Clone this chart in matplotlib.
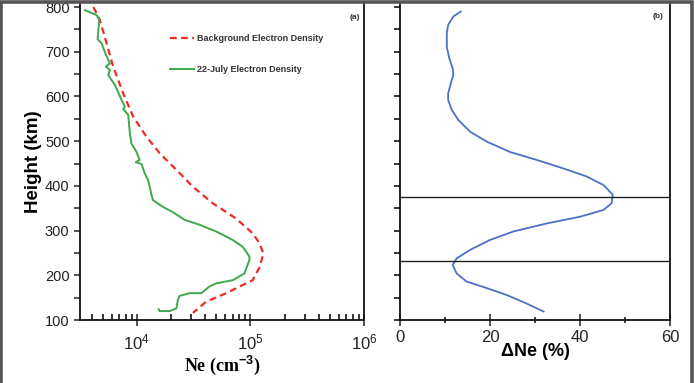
import numpy as np
import matplotlib
matplotlib.use("Agg")
import matplotlib.pyplot as plt
from matplotlib.ticker import LogLocator, MultipleLocator, NullFormatter
from matplotlib.patches import Rectangle

plt.rcParams['font.family'] = ['Liberation Sans', 'DejaVu Sans']
plt.rcParams['mathtext.fontset'] = 'custom'
plt.rcParams['mathtext.rm'] = 'Liberation Sans'
plt.rcParams['mathtext.it'] = 'Liberation Sans:italic'
plt.rcParams['mathtext.bf'] = 'Liberation Sans:bold'

# Panel (a): electron density profiles
july_height = [793, 782, 771, 728, 719, 693, 674, 667, 659, 648, 626, 592, 577, 572,
               559, 518, 495, 476, 458, 453, 449, 428, 413, 398, 380, 368, 353, 341,
               324, 313, 298, 279, 264, 242, 234, 204, 189, 182, 175, 160, 160, 154,
               145, 126, 120, 120, 124]
july_ne = [3500, 4430, 4670, 4520, 4900, 5350, 5800, 5350, 5800, 5600, 6410, 7350, 7850, 7600,
           8400, 8690, 8970, 9930, 10600, 9800, 11000, 11750, 12560, 13000, 13460, 13900, 17000, 20800,
           26400, 35700, 50000, 70000, 85500, 98000, 98000, 88500, 70000, 50000, 43600, 37000, 29200, 23800,
           23000, 22300, 19500, 15900, 15600]

bg_height = [800, 793, 771, 719, 667, 607, 555, 510, 473, 436, 398, 361, 327, 294,
             272, 249, 219, 189, 182, 160, 141, 116]
bg_ne = [4150, 4290, 4730, 5420, 6190, 7590, 9290, 12160, 15900, 22300, 31200, 46700, 74800, 104700,
         120000, 130000, 121000, 104700, 91600, 61200, 40800, 31200]

# Panel (b): percentage change
dne_height = [790, 779, 760, 741, 711, 685, 663, 648, 630, 607, 592, 570, 547, 521,
              499, 476, 458, 439, 421, 402, 380, 361, 346, 331, 316, 298, 279, 257,
              238, 223, 204, 186, 174, 156, 137, 119]
dne_pct = [13.5, 11.85, 10.7, 10.4, 10.4, 10.96, 11.7, 11.85, 11.3, 10.7, 10.7, 11.5, 13.0, 15.6,
           19.3, 24.4, 30.4, 36.3, 41.5, 45.2, 47.3, 47.0, 45.2, 40.0, 32.6, 25.2, 20.0, 15.6,
           12.6, 11.7, 12.6, 14.8, 18.5, 23.7, 28.1, 31.9]
marker_heights = [374.5, 232]

fig = plt.figure(figsize=(6.95, 3.83), dpi=100)
ax1 = fig.add_axes([80/695, 63/383, 284/695, 316.5/383])
ax2 = fig.add_axes([400/695, 63/383, 270/695, 316.5/383])

ax1.plot(bg_ne, bg_height, color='#ee2a24', ls=(0, (3, 2)), lw=1.6,
         label='Background Electron Density')
ax1.plot(july_ne, july_height, color='#3ea84a', lw=1.4,
         label='22-July Electron Density')
ax1.set_xscale('log')
ax1.set_xlim(10**3.5, 1e6)
ax1.set_ylim(100, 808)
ax1.xaxis.set_major_locator(LogLocator(base=10, numticks=10))
ax1.xaxis.set_minor_locator(LogLocator(base=10, subs=np.arange(2, 10), numticks=20))
ax1.xaxis.set_minor_formatter(NullFormatter())
ax1.yaxis.set_major_locator(MultipleLocator(100))
ax1.yaxis.set_minor_locator(MultipleLocator(50))
ax1.tick_params(axis='x', which='major', direction='inout', length=8, width=1.1,
                labelsize=12, colors='#222222', pad=5)
ax1.tick_params(axis='x', which='minor', direction='in', length=4, width=1.1)
ax1.tick_params(axis='y', which='both', direction='out', length=4, width=1.1,
                labelsize=10.5, colors='#222222')
ax1.spines['top'].set_visible(False)
for s in ['left', 'bottom', 'right']:
    ax1.spines[s].set_linewidth(1.3)
    ax1.spines[s].set_color('#111111')
ax1.set_ylabel('Height (km)', fontsize=13.5, fontweight='bold', labelpad=2)
ax1.set_xlabel(r'Ne (cm$^{\mathbf{-3}}$)', fontsize=13, fontweight='bold',
               family='Liberation Serif', labelpad=1)
leg = ax1.legend(loc='upper left', bbox_to_anchor=(0.29, 0.93), frameon=False,
                 prop={'weight': 'bold', 'size': 6.5}, handlelength=2.6,
                 handletextpad=0.3, labelspacing=2.5)
for t in leg.get_texts():
    t.set_color('#333333')
ax1.text(0.985, 0.955, '(a)', transform=ax1.transAxes, fontsize=6,
         fontweight='bold', ha='right', va='center', color='#333333')

ax2.plot(dne_pct, dne_height, color='#4a72c4', lw=1.3)
for h in marker_heights:
    ax2.axhline(h, color='#222222', lw=1.0)
ax2.set_xlim(0, 60)
ax2.set_ylim(100, 808)
ax2.xaxis.set_major_locator(MultipleLocator(20))
ax2.xaxis.set_minor_locator(MultipleLocator(10))
ax2.yaxis.set_major_locator(MultipleLocator(50))
ax2.set_yticklabels([])
ax2.tick_params(axis='x', which='major', direction='inout', length=8, width=1.1,
                labelsize=12, colors='#222222', pad=3)
ax2.tick_params(axis='x', which='minor', direction='inout', length=5, width=1.1)
ax2.tick_params(axis='y', which='both', direction='out', length=4, width=1.1)
ax2.spines['top'].set_visible(False)
for s in ['left', 'bottom', 'right']:
    ax2.spines[s].set_linewidth(1.3)
    ax2.spines[s].set_color('#111111')
ax2.set_xlabel('ΔNe (%)', fontsize=13, fontweight='bold', labelpad=-1)
ax2.text(0.975, 0.96, '(b)', transform=ax2.transAxes, fontsize=6,
         fontweight='bold', ha='right', va='center', color='#333333')

# frame around the figure
fig.patches.append(Rectangle((0.002, -0.01), 0.994, 1.005, transform=fig.transFigure,
                             fill=False, edgecolor='#555555', lw=2.6))

fig.savefig('out.png', dpi=100)
